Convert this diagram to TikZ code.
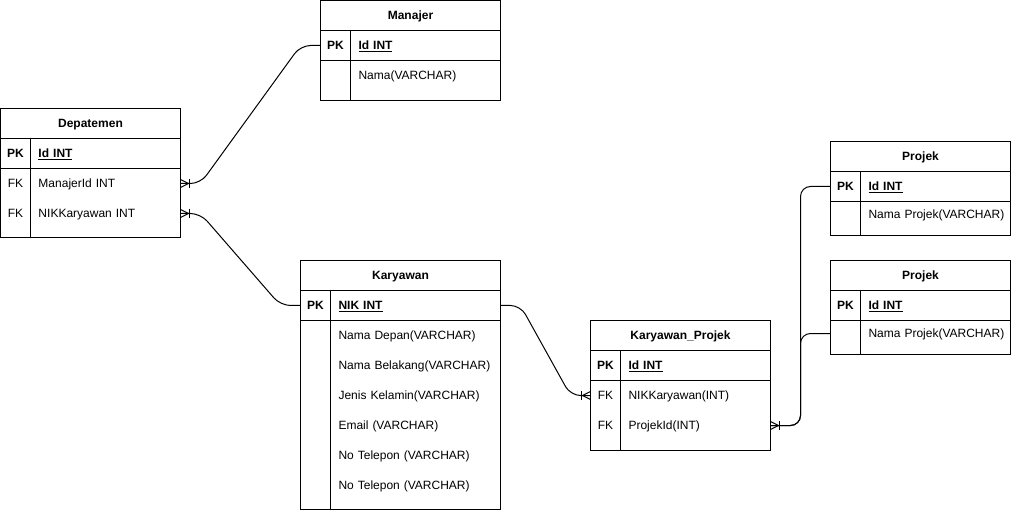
\documentclass[tikz,border=0pt]{standalone}
\usepackage{fontspec}
\setmainfont{Liberation Sans}
\begin{document}
\begin{tikzpicture}[x=1pt, y=-1pt, line width=1pt,
  font=\fontsize{12}{14}\selectfont,
  hdr/.style={anchor=north west, minimum height=30pt, inner sep=0pt, outer sep=0pt,
    text height=10pt, text depth=1.4pt, font=\fontsize{12}{14}\selectfont\bfseries},
  keycell/.style={anchor=north west, minimum width=30pt, minimum height=30pt,
    inner sep=0pt, outer sep=0pt, text height=10pt, text depth=1.4pt},
  pk/.style={keycell, font=\fontsize{12}{14}\selectfont\bfseries},
  fld/.style={anchor=north west, minimum height=30pt, inner sep=0pt, outer sep=0pt,
    text height=10pt, text depth=1.4pt, align=left, text width=#1,
    execute at begin node={\hspace*{8pt}}},
  pkfld/.style={fld=#1, font=\fontsize{12}{14}\selectfont\bfseries},
  rel/.style={rounded corners=10pt},
  crowfoot/.pic={\draw (0,-4) -- (8,0) -- (0,4); \draw (9,-4.5) -- (9,4.5);}]
\useasboundingbox (-0.5,-0.5) rectangle (1010.5,509.5);
% Manajer
\node[hdr, minimum width=180pt] (mj) at (320,0) {Manajer};
\node[pk] (mjk1) at (320,30) {PK};
\node[pkfld=150pt] (mjf1) at (350,30) {\underline{Id INT}};
\node[fld=150pt] (mjf2) at (350,60) {Nama(VARCHAR)};
\draw (320,0) rectangle (500,100) (320,30) -- (500,30) (320,60) -- (500,60) (350,30) -- (350,100);
% Depatemen
\node[hdr, minimum width=180pt] (dp) at (0,108) {Depatemen};
\node[pk] (dpk1) at (0,138) {PK};
\node[pkfld=150pt] (dpf1) at (30,138) {\underline{Id INT}};
\node[keycell] (dpk2) at (0,168) {FK};
\node[fld=150pt] (dpf2) at (30,168) {ManajerId INT};
\node[keycell] (dpk3) at (0,198) {FK};
\node[fld=150pt] (dpf3) at (30,198) {NIKKaryawan INT};
\draw (0,108) rectangle (180,237) (0,138) -- (180,138) (0,168) -- (180,168) (30,138) -- (30,237);
% Karyawan
\node[hdr, minimum width=200pt] (ky) at (300,260) {Karyawan};
\node[pk] (kyk1) at (300,290) {PK};
\node[pkfld=170pt] (kyf1) at (330,290) {\underline{NIK INT}};
\foreach \t [count=\i from 2] in {Nama Depan(VARCHAR), Nama Belakang(VARCHAR),
    Jenis Kelamin(VARCHAR), Email (VARCHAR), No Telepon (VARCHAR), No Telepon (VARCHAR)}
  \node[fld=170pt] (kyf\i) at (330,{260+30*\i}) {\t};
\draw (300,260) rectangle (500,509) (300,290) -- (500,290) (300,320) -- (500,320) (330,290) -- (330,509);
% Karyawan_Projek
\node[hdr, minimum width=180pt] (kp) at (590,320) {Karyawan\_Projek};
\node[pk] (kpk1) at (590,350) {PK};
\node[pkfld=150pt] (kpf1) at (620,350) {\underline{Id INT}};
\node[keycell] (kpk2) at (590,380) {FK};
\node[fld=150pt] (kpf2) at (620,380) {NIKKaryawan(INT)};
\node[keycell] (kpk3) at (590,410) {FK};
\node[fld=150pt] (kpf3) at (620,410) {ProjekId(INT)};
\draw (590,320) rectangle (770,450) (590,350) -- (770,350) (590,380) -- (770,380) (620,350) -- (620,450);
% Projek (oben)
\node[hdr, minimum width=180pt] (pja) at (830,141) {Projek};
\node[pk] (pjak1) at (830,171) {PK};
\node[pkfld=150pt] (pjaf1) at (860,171) {\underline{Id INT}};
\node[fld=150pt, minimum height=26pt] (pjaf2) at (860,201) {Nama Projek(VARCHAR)};
\draw (830,141) rectangle (1010,235) (830,171) -- (1010,171) (830,201) -- (1010,201) (860,171) -- (860,235);
% Projek (unten)
\node[hdr, minimum width=180pt] (pjb) at (830,260) {Projek};
\node[pk] (pjbk1) at (830,290) {PK};
\node[pkfld=150pt] (pjbf1) at (860,290) {\underline{Id INT}};
\node[fld=150pt, minimum height=26pt] (pjbf2) at (860,320) {Nama Projek(VARCHAR)};
\draw (830,260) rectangle (1010,354) (830,290) -- (1010,290) (830,320) -- (1010,320) (860,290) -- (860,354);
% Beziehungen
\draw[rel] (dpf2.east) -- ++(20,0) -- ([xshift=-20pt]mjk1.west) -- (mjk1.west);
\draw[rel] (dpf3.east) -- ++(20,0) -- ([xshift=-20pt]kyk1.west) -- (kyk1.west);
\draw[rel] (kyf1.east) -- ++(20,0) -- ([xshift=-20pt]kpk2.west) -- (kpk2.west);
\draw[rel] (kpf3.east) -- ++(30,0) |- (pjak1.west);
\draw[rel] (kpf3.east) -- ++(30,0) |- (pjb.west |- pjbf2.west);
% Kraehenfuesse
\pic at (dpf2.east) {crowfoot};
\pic at (dpf3.east) {crowfoot};
\pic[rotate=180] at (kpk2.west) {crowfoot};
\pic at (kpf3.east) {crowfoot};
\end{tikzpicture}
\end{document}
